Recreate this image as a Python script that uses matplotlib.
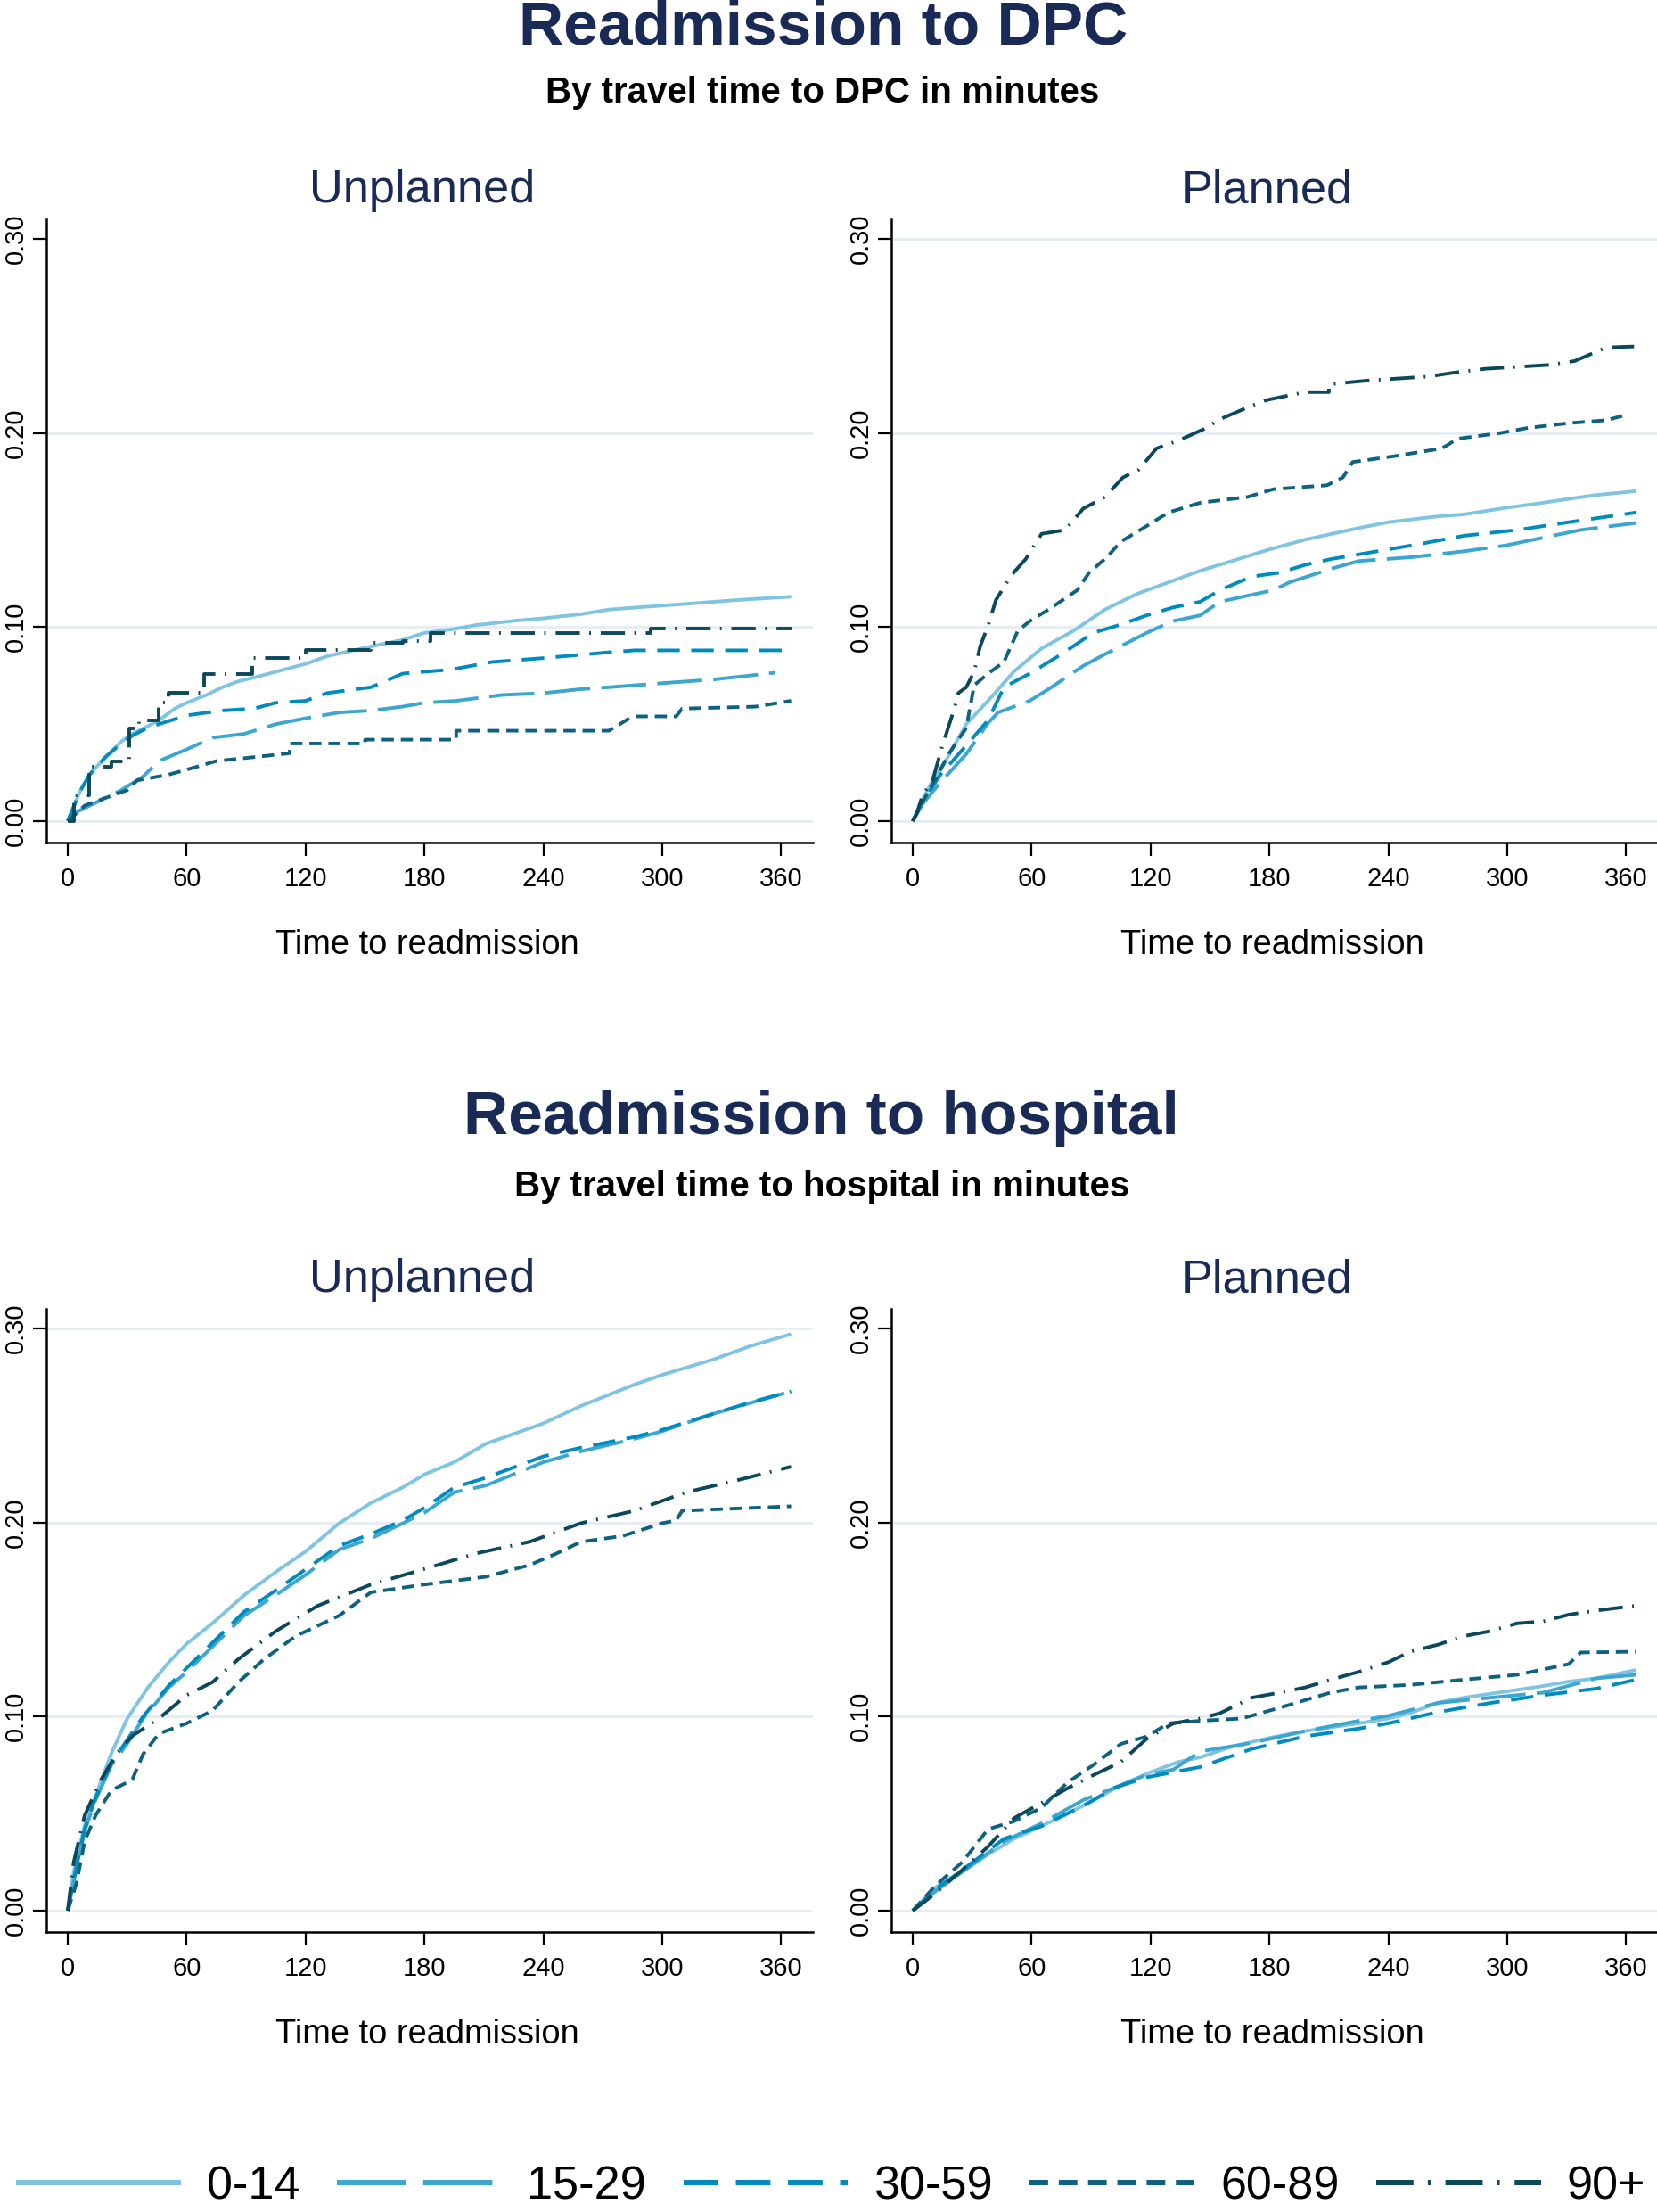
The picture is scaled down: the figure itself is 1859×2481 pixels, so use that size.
import matplotlib
matplotlib.use("Agg")
import matplotlib.pyplot as plt
from matplotlib.lines import Line2D

plt.rcParams['font.family'] = ['Liberation Sans', 'DejaVu Sans']

# ---- data: cumulative readmission by travel-time group ----
groups = ['0-14', '15-29', '30-59', '60-89', '90+']

# DPC, unplanned
dpc_u_014_t = [0, 6, 11, 19, 27, 32.5, 40.5, 46, 54, 60, 70, 78, 86, 94, 107, 120, 131, 153, 169, 180, 193, 206, 227, 240, 259, 273, 286, 313, 339, 365]
dpc_u_014_y = [0, 0.015, 0.024, 0.033, 0.041, 0.045, 0.049, 0.052, 0.058, 0.061, 0.065, 0.069, 0.072, 0.074, 0.0775, 0.081, 0.085, 0.090, 0.0934, 0.097, 0.0987, 0.101, 0.1034, 0.1045, 0.1066, 0.109, 0.110, 0.112, 0.114, 0.1156]
dpc_u_1529_t = [0, 5, 11, 19, 27, 38, 46, 53, 60, 73, 89, 105, 120, 137, 153, 169, 180, 196, 219, 240, 259, 273, 299, 326, 344, 357]
dpc_u_1529_y = [0, 0.005, 0.008, 0.012, 0.016, 0.023, 0.031, 0.034, 0.037, 0.043, 0.045, 0.050, 0.053, 0.056, 0.057, 0.059, 0.061, 0.062, 0.065, 0.066, 0.068, 0.069, 0.071, 0.073, 0.075, 0.0765]
dpc_u_3059_t = [0, 6, 11, 19, 27, 32.5, 40, 46, 60, 78, 94, 105, 120, 131, 153, 169, 180, 193, 214, 240, 273, 286, 365]
dpc_u_3059_y = [0, 0.015, 0.024, 0.033, 0.040, 0.044, 0.048, 0.050, 0.0545, 0.057, 0.058, 0.061, 0.062, 0.066, 0.069, 0.076, 0.077, 0.078, 0.082, 0.084, 0.087, 0.088, 0.088]
dpc_u_6089_t = [0, 8.5, 19, 30, 35, 51, 65, 75, 94, 112, 112, 150, 150, 196, 196, 273, 277, 285, 307, 310, 347, 365]
dpc_u_6089_y = [0, 0.008, 0.012, 0.016, 0.021, 0.024, 0.028, 0.031, 0.033, 0.035, 0.040, 0.040, 0.042, 0.042, 0.0466, 0.0466, 0.049, 0.054, 0.054, 0.058, 0.059, 0.062]
dpc_u_90_t = [0, 3, 3, 11, 11, 22, 22, 31, 31, 36, 36, 46, 46, 51, 51, 69, 69, 93, 93, 120, 120, 153, 153, 169, 169, 183, 183, 294, 294, 365]
dpc_u_90_y = [0, 0, 0.0135, 0.0135, 0.028, 0.028, 0.031, 0.031, 0.048, 0.048, 0.052, 0.052, 0.061, 0.061, 0.066, 0.066, 0.076, 0.076, 0.084, 0.084, 0.088, 0.088, 0.092, 0.092, 0.093, 0.093, 0.097, 0.097, 0.099, 0.099]

# DPC, planned
dpc_p_014_t = [0, 5, 10, 15.5, 27, 38, 51, 65, 81, 97, 113, 129, 145, 161, 180, 198, 225, 240, 265, 278, 300, 318, 331, 345, 365]
dpc_p_014_y = [0, 0.011, 0.021, 0.029, 0.050, 0.062, 0.077, 0.089, 0.098, 0.109, 0.117, 0.123, 0.129, 0.134, 0.140, 0.145, 0.151, 0.154, 0.157, 0.158, 0.1615, 0.164, 0.166, 0.168, 0.170]
dpc_p_1529_t = [0, 5, 14, 27, 38, 43, 59, 70, 86, 97, 118, 131, 145, 155, 171, 182, 190, 211, 225, 252, 278, 299, 318, 337, 365]
dpc_p_1529_y = [0, 0.009, 0.020, 0.0346, 0.0505, 0.056, 0.062, 0.069, 0.080, 0.086, 0.097, 0.103, 0.106, 0.113, 0.1166, 0.119, 0.123, 0.130, 0.134, 0.136, 0.139, 0.142, 0.146, 0.150, 0.1536]
dpc_p_3059_t = [0, 5, 14, 27, 38, 46, 59, 75, 91, 105, 118, 131, 145, 155, 171, 185, 198, 211, 240, 257, 278, 305, 331, 365]
dpc_p_3059_y = [0, 0.010, 0.024, 0.039, 0.052, 0.069, 0.076, 0.086, 0.097, 0.1013, 0.106, 0.110, 0.113, 0.119, 0.126, 0.128, 0.132, 0.135, 0.140, 0.143, 0.147, 0.150, 0.154, 0.159]
dpc_p_6089_t = [0, 5, 11, 19, 27, 31, 38, 46, 53, 59, 70, 83, 89, 98, 105, 118, 129, 145, 169, 182, 209, 217, 222, 243, 267, 275, 297, 310, 331, 350, 359]
dpc_p_6089_y = [0, 0.010, 0.021, 0.036, 0.048, 0.070, 0.076, 0.082, 0.098, 0.103, 0.110, 0.119, 0.128, 0.136, 0.144, 0.152, 0.159, 0.164, 0.167, 0.171, 0.173, 0.177, 0.185, 0.188, 0.192, 0.197, 0.200, 0.2025, 0.205, 0.2065, 0.209]
dpc_p_90_t = [0, 2, 5, 10, 15, 21, 23, 27, 31, 34, 38, 42, 50, 57, 65, 77, 86, 97, 106, 114, 123, 134, 147, 155, 171, 179, 198, 210, 210, 230, 260, 273, 289, 321, 334, 350, 364]
dpc_p_90_y = [0, 0.004, 0.0135, 0.021, 0.039, 0.058, 0.066, 0.069, 0.077, 0.090, 0.1006, 0.114, 0.127, 0.135, 0.148, 0.150, 0.161, 0.167, 0.177, 0.181, 0.192, 0.196, 0.202, 0.207, 0.214, 0.217, 0.221, 0.221, 0.225, 0.227, 0.229, 0.231, 0.233, 0.235, 0.237, 0.244, 0.2445]

# hospital, unplanned
hos_u_014_t = [0, 3, 8.5, 14, 22, 30, 40.5, 51, 60, 73, 89, 105, 120, 137, 153, 169, 180, 195, 211, 240, 259, 286, 300, 326, 345, 365]
hos_u_014_y = [0, 0.020, 0.044, 0.059, 0.081, 0.099, 0.115, 0.128, 0.1375, 0.148, 0.1625, 0.1745, 0.185, 0.1996, 0.210, 0.218, 0.2247, 0.231, 0.2405, 0.251, 0.260, 0.271, 0.276, 0.284, 0.291, 0.297]
hos_u_1529_t = [0, 3, 8.5, 14, 22, 30, 38, 51, 60, 73, 89, 105, 120, 137, 153, 169, 180, 195, 211, 240, 259, 286, 300, 326, 345, 365]
hos_u_1529_y = [0, 0.015, 0.041, 0.057, 0.075, 0.086, 0.099, 0.115, 0.123, 0.136, 0.152, 0.1626, 0.173, 0.186, 0.1917, 0.1995, 0.205, 0.2155, 0.219, 0.231, 0.2366, 0.243, 0.247, 0.256, 0.2617, 0.2675]
hos_u_3059_t = [0, 3, 8.5, 14, 22, 30, 38, 51, 60, 73, 89, 105, 120, 137, 153, 169, 180, 195, 211, 240, 259, 286, 300, 326, 345, 365]
hos_u_3059_y = [0, 0.016, 0.042, 0.058, 0.076, 0.088, 0.100, 0.116, 0.125, 0.138, 0.154, 0.165, 0.1758, 0.188, 0.194, 0.201, 0.2075, 0.218, 0.223, 0.234, 0.2385, 0.244, 0.2477, 0.256, 0.262, 0.2675]
hos_u_6089_t = [0, 4.5, 8.5, 14, 22, 32.5, 38, 46, 60, 73, 86, 99, 115, 137, 153, 180, 211, 233, 246, 259, 280, 300, 307, 310, 365]
hos_u_6089_y = [0, 0.0145, 0.0357, 0.049, 0.062, 0.0674, 0.0806, 0.0912, 0.0965, 0.103, 0.1176, 0.1295, 0.1414, 0.152, 0.164, 0.168, 0.172, 0.178, 0.1837, 0.190, 0.193, 0.1996, 0.201, 0.206, 0.2083]
hos_u_90_t = [0, 3, 8.5, 16.5, 24.5, 32.5, 46, 60, 73, 86, 105, 126, 153, 180, 206, 233, 259, 286, 312, 339, 365]
hos_u_90_y = [0, 0.025, 0.049, 0.067, 0.0806, 0.090, 0.099, 0.111, 0.1177, 0.1295, 0.144, 0.157, 0.168, 0.176, 0.184, 0.190, 0.1996, 0.206, 0.2155, 0.222, 0.2287]

# hospital, planned
hos_p_014_t = [0, 11.5, 25, 38, 51, 65, 78, 91.5, 105, 120, 134, 145, 161, 180, 198, 225, 240, 251, 265, 278, 300, 318, 331, 345, 365]
hos_p_014_y = [0, 0.012, 0.020, 0.029, 0.037, 0.0436, 0.050, 0.057, 0.0647, 0.0713, 0.0766, 0.079, 0.0845, 0.089, 0.0925, 0.0965, 0.099, 0.1018, 0.1071, 0.1097, 0.113, 0.1157, 0.118, 0.1197, 0.124]
hos_p_1529_t = [0, 11.5, 25, 46, 65, 86, 102, 118, 131.5, 145, 171, 198, 225, 240, 265, 291.5, 318, 345, 365]
hos_p_1529_y = [0, 0.010, 0.020, 0.0357, 0.045, 0.057, 0.0634, 0.070, 0.0727, 0.082, 0.0864, 0.0925, 0.0978, 0.1004, 0.107, 0.1097, 0.1123, 0.1197, 0.1215]
hos_p_3059_t = [0, 11.5, 25, 46, 65, 86, 102, 118, 145, 171, 198, 225, 240, 265, 291.5, 318, 345, 365]
hos_p_3059_y = [0, 0.011, 0.021, 0.037, 0.0436, 0.054, 0.0634, 0.0687, 0.074, 0.0833, 0.0898, 0.0938, 0.0965, 0.1023, 0.107, 0.111, 0.1144, 0.119]
hos_p_6089_t = [0, 11.5, 25, 38, 51, 65, 78, 91.5, 105, 118, 129, 145, 166, 185, 211, 225, 251, 278, 305, 331, 337, 365]
hos_p_6089_y = [0, 0.013, 0.025, 0.042, 0.046, 0.053, 0.066, 0.0753, 0.0859, 0.0897, 0.0965, 0.0978, 0.099, 0.1045, 0.1124, 0.115, 0.1163, 0.119, 0.1215, 0.127, 0.133, 0.1334]
hos_p_90_t = [0, 11.5, 25, 38, 51, 65, 78, 91.5, 105, 118, 131.5, 145, 155, 171, 185, 198, 211, 225, 240, 251, 265, 278, 291.5, 305, 318, 331, 345, 364]
hos_p_90_y = [0, 0.009, 0.021, 0.033, 0.0476, 0.0555, 0.063, 0.070, 0.0766, 0.0885, 0.0965, 0.099, 0.1017, 0.1097, 0.1123, 0.115, 0.119, 0.123, 0.128, 0.1334, 0.137, 0.1414, 0.144, 0.148, 0.149, 0.1525, 0.1546, 0.157]

x_ticks = [0, 60, 120, 180, 240, 300, 360]
y_ticks = [0.0, 0.1, 0.2, 0.3]
y_ticklabels = ['0.00', '0.10', '0.20', '0.30']

# ---- styles ----
colors = ['#7fc4e0', '#3ba6d0', '#008bbe', '#0e6280', '#0b485c']
dashes = ['-', (0, (13, 3.2)), (0, (6.5, 3.3)), (0, (3.5, 2.0)), (0, (7, 2.7, 0.5, 2.8))]
navy = '#1a2a57'
grid_c = '#e3edf2'

W, H = 1859, 2481
fig = plt.figure(figsize=(W / 100, H / 100), dpi=100)

def fx(px):
    return px / W

def fy(py):
    return 1 - py / H

panels = [
    # (left px, top px, bottom px, title, curves, gridline at 0.30)
    (52, 246, 945, 'Unplanned',
     [(dpc_u_014_t, dpc_u_014_y), (dpc_u_1529_t, dpc_u_1529_y), (dpc_u_3059_t, dpc_u_3059_y),
      (dpc_u_6089_t, dpc_u_6089_y), (dpc_u_90_t, dpc_u_90_y)], False),
    (1000, 246, 945, 'Planned',
     [(dpc_p_014_t, dpc_p_014_y), (dpc_p_1529_t, dpc_p_1529_y), (dpc_p_3059_t, dpc_p_3059_y),
      (dpc_p_6089_t, dpc_p_6089_y), (dpc_p_90_t, dpc_p_90_y)], True),
    (52, 1468, 2167, 'Unplanned',
     [(hos_u_014_t, hos_u_014_y), (hos_u_1529_t, hos_u_1529_y), (hos_u_3059_t, hos_u_3059_y),
      (hos_u_6089_t, hos_u_6089_y), (hos_u_90_t, hos_u_90_y)], True),
    (1000, 1468, 2167, 'Planned',
     [(hos_p_014_t, hos_p_014_y), (hos_p_1529_t, hos_p_1529_y), (hos_p_3059_t, hos_p_3059_y),
      (hos_p_6089_t, hos_p_6089_y), (hos_p_90_t, hos_p_90_y)], False),
]

panel_w = 860
for left, top, bottom, title, curves, top_grid in panels:
    ax = fig.add_axes([fx(left), fy(bottom), panel_w / W, (bottom - top) / H])
    ax.set_xlim(-10.8, 376)
    ax.set_ylim(-0.011, 0.310)
    for v in y_ticks:
        if v == 0.3 and not top_grid:
            continue
        ax.axhline(v, color=grid_c, lw=2, zorder=0)
    for (t, y), c, ls in zip(curves, colors, dashes):
        ax.plot(t, y, color=c, linestyle=ls, lw=2.8, solid_capstyle='butt', zorder=2)
    for s in ['top', 'right']:
        ax.spines[s].set_visible(False)
    for s in ['left', 'bottom']:
        ax.spines[s].set_linewidth(1.8)
    ax.set_xticks(x_ticks)
    ax.set_yticks(y_ticks)
    ax.set_yticklabels(y_ticklabels, rotation=90, va='center')
    ax.tick_params(axis='both', length=10.8, width=1.6, labelsize=21, colors='black')
    ax.tick_params(axis='x', pad=9)
    ax.tick_params(axis='y', pad=4)
    ax.text(0.49, 1.027, title, transform=ax.transAxes, ha='center', va='baseline',
            fontsize=37.7, color=navy)
    ax.text(0.497, -0.179, 'Time to readmission', transform=ax.transAxes, ha='center',
            va='baseline', fontsize=27.4, color='black')

# block titles
fig.text(fx(924), fy(50), 'Readmission to DPC', ha='center', va='baseline',
         fontsize=50, fontweight='bold', color=navy)
fig.text(fx(923), fy(115), 'By travel time to DPC in minutes', ha='center', va='baseline',
         fontsize=29, fontweight='bold', color='black')
fig.text(fx(921), fy(1272), 'Readmission to hospital', ha='center', va='baseline',
         fontsize=50, fontweight='bold', color=navy)
fig.text(fx(922), fy(1342), 'By travel time to hospital in minutes', ha='center', va='baseline',
         fontsize=29, fontweight='bold', color='black')

# legend
handles = [Line2D([], [], color=c, linestyle=ls, lw=4.3, solid_capstyle='butt')
           for c, ls in zip(colors, dashes)]
fig.legend(handles, groups, loc='center', bbox_to_anchor=(fx(932), fy(2453)), ncol=5,
           frameon=False, fontsize=37.5, handlelength=3.55, handletextpad=0.55,
           columnspacing=0.8, borderpad=0, borderaxespad=0)

fig.savefig('out.png', dpi=100, facecolor='white')
